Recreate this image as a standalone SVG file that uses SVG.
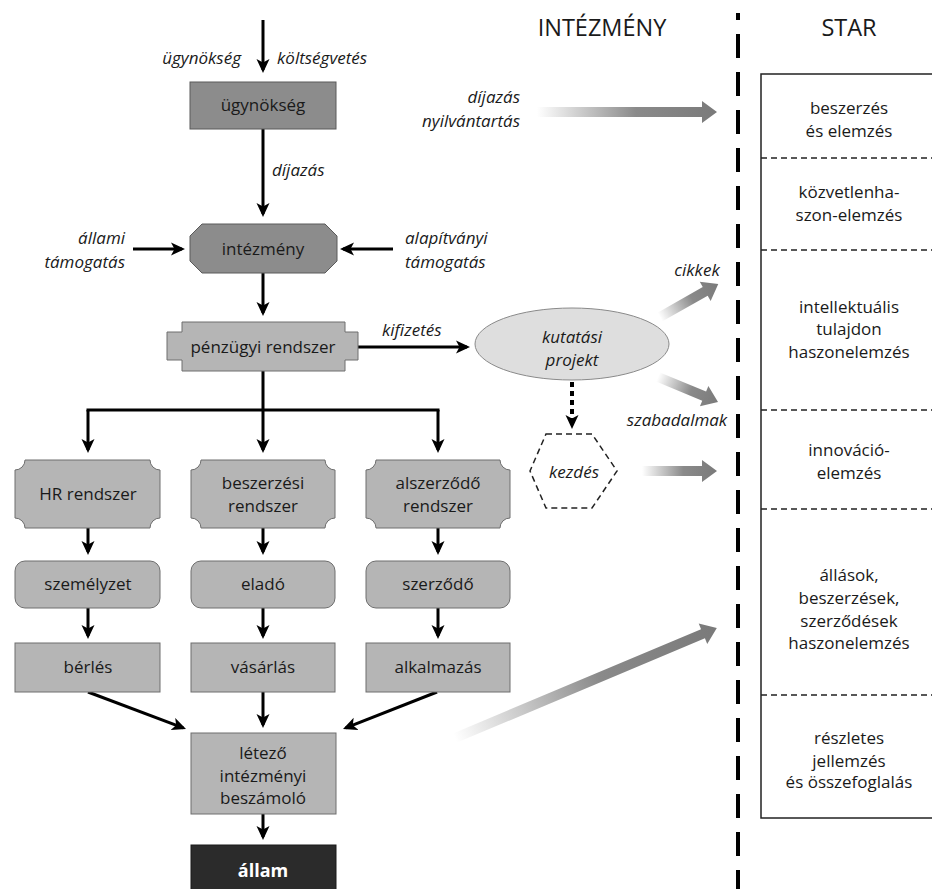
<svg xmlns="http://www.w3.org/2000/svg" width="932" height="889" viewBox="0 0 932 889">
<style>
text{font-family:"Open Sans","Noto Sans","Liberation Sans",sans-serif;fill:#1a1a1a}
.t{font-size:17px;text-anchor:middle}
.i{font-size:17px;font-style:italic}
.h{font-size:23.5px;text-anchor:middle}
.dark{fill:#8c8c8c;stroke:#5a5a5a;stroke-width:1}
.light{fill:#b5b5b5;stroke:#6e6e6e;stroke-width:1}
.con{stroke:#000;stroke-width:3;fill:none}
.arr{marker-end:url(#ah)}
.sep{stroke:#222;stroke-width:1.3;stroke-dasharray:6 4}
.ga{fill:url(#grad)}
</style>
<defs>
<marker id="ah" markerUnits="userSpaceOnUse" viewBox="0 0 14 14" markerWidth="14" markerHeight="14" refX="11" refY="7" orient="auto">
<path d="M0,0.5 L14,7 L0,13.5 L3.5,7 Z" fill="#000"/>
</marker>
<linearGradient id="grad" x1="0" y1="0" x2="1" y2="0">
<stop offset="0" stop-color="#ffffff"/>
<stop offset="0.55" stop-color="#8a8a8a"/>
<stop offset="1" stop-color="#7a7a7a"/>
</linearGradient>
</defs>

<!-- column headers and separator -->
<text class="h" x="602" y="36">INTÉZMÉNY</text>
<text class="h" x="849" y="36">STAR</text>
<line x1="738" y1="13" x2="738" y2="889" stroke="#000" stroke-width="4" stroke-dasharray="24 14" stroke-dashoffset="17"/>

<g id="connectors">
<line class="con arr" x1="263" y1="20" x2="263" y2="70"/>
<line class="con arr" x1="263" y1="129" x2="263" y2="214"/>
<line class="con arr" x1="133" y1="249" x2="182" y2="249"/>
<line class="con arr" x1="393" y1="249" x2="343" y2="249"/>
<line class="con arr" x1="263" y1="273" x2="263" y2="313"/>
<path class="con" d="M263,371 V410 M86.5,410 H439.5"/>
<line class="con arr" x1="88" y1="410" x2="88" y2="450"/>
<line class="con arr" x1="263" y1="410" x2="263" y2="450"/>
<line class="con arr" x1="438" y1="410" x2="438" y2="450"/>
<line class="con arr" x1="358" y1="347" x2="467" y2="347"/>
<line class="con arr" x1="88" y1="528" x2="88" y2="552"/>
<line class="con arr" x1="263" y1="528" x2="263" y2="552"/>
<line class="con arr" x1="438" y1="528" x2="438" y2="552"/>
<line class="con arr" x1="88" y1="608" x2="88" y2="636"/>
<line class="con arr" x1="263" y1="608" x2="263" y2="636"/>
<line class="con arr" x1="438" y1="608" x2="438" y2="636"/>
<line class="con arr" x1="88" y1="692" x2="183.2" y2="727.9"/>
<line class="con arr" x1="263" y1="692" x2="263" y2="725"/>
<line class="con arr" x1="437" y1="692" x2="345.8" y2="727.9"/>
<line class="con arr" x1="263" y1="814" x2="263" y2="837"/>
<line x1="572" y1="382" x2="572" y2="426" stroke="#000" stroke-width="4" stroke-dasharray="5 4" marker-end="url(#ah)"/>
<!-- gradient arrows -->
<path class="ga" transform="translate(537,112)" d="M0,-5 H165 V-11 L180,0 L165,11 V5 H0 Z"/>
<path class="ga" transform="translate(660,317) rotate(-29.6)" d="M0,-5 H52 V-11 L67,0 L52,11 V5 H0 Z"/>
<path class="ga" transform="translate(658,377) rotate(22.6)" d="M0,-5 H50 V-11 L65,0 L50,11 V5 H0 Z"/>
<path class="ga" transform="translate(642,471)" d="M0,-5 H60 V-11 L75,0 L60,11 V5 H0 Z"/>
<path class="ga" transform="translate(455,738) rotate(-22.8)" d="M0,-5 H269 V-11 L284,0 L269,11 V5 H0 Z"/>
</g>

<!-- labels -->
<text class="i" x="241" y="64" text-anchor="end">ügynökség</text>
<text class="i" x="277" y="64">költségvetés</text>
<text class="i" x="272" y="176">díjazás</text>
<text class="i" x="125" y="244" text-anchor="end">állami</text>
<text class="i" x="125" y="268" text-anchor="end">támogatás</text>
<text class="i" x="405" y="244">alapítványi</text>
<text class="i" x="405" y="268">támogatás</text>
<text class="i" x="382" y="336">kifizetés</text>
<text class="i" x="520" y="103" text-anchor="end">díjazás</text>
<text class="i" x="520" y="127" text-anchor="end">nyilvántartás</text>
<text class="i" x="697" y="276" text-anchor="middle">cikkek</text>
<text class="i" x="677" y="426" text-anchor="middle">szabadalmak</text>

<g id="n-ugynokseg">
<rect class="dark" x="190" y="82" width="146" height="47"/>
<text class="t" x="263" y="111">ügynökség</text>
</g>
<g id="n-intezmeny">
<polygon class="dark" points="202,224 325,224 337,236 337,261 325,273 202,273 190,261 190,236"/>
<text class="t" x="263" y="255">intézmény</text>
</g>
<g id="n-penzugyi">
<polygon class="light" points="182,322 345,322 345,332 358,332 358,360 345,360 345,371 182,371 182,360 167,360 167,332 182,332"/>
<text class="t" x="263" y="353">pénzügyi rendszer</text>
</g>
<g id="n-kutatasi">
<ellipse cx="572" cy="344" rx="97" ry="36" fill="#dedede" stroke="#8a8a8a" stroke-width="1"/>
<text class="i" x="572" y="343" text-anchor="middle">kutatási</text>
<text class="i" x="572" y="366" text-anchor="middle">projekt</text>
</g>
<g id="n-kezdes">
<polygon points="546,434 592,434 617,471 592,508 546,508 530,471" fill="#fff" stroke="#222" stroke-width="1.5" stroke-dasharray="6 4"/>
<text class="i" x="574" y="478" text-anchor="middle">kezdés</text>
</g>

<g id="n-hr">
<path class="light" d="M25,460 H150 A10,10 0 0 0 160,470 V518 A10,10 0 0 0 150,528 H25 A10,10 0 0 0 15,518 V470 A10,10 0 0 0 25,460 Z"/>
<text class="t" x="88" y="500">HR rendszer</text>
</g>
<g id="n-beszerzesi">
<path class="light" d="M201,460 H325 A10,10 0 0 0 335,470 V518 A10,10 0 0 0 325,528 H201 A10,10 0 0 0 191,518 V470 A10,10 0 0 0 201,460 Z"/>
<text class="t" x="263" y="489">beszerzési</text>
<text class="t" x="263" y="512">rendszer</text>
</g>
<g id="n-alszerzodo">
<path class="light" d="M376,460 H500 A10,10 0 0 0 510,470 V518 A10,10 0 0 0 500,528 H376 A10,10 0 0 0 366,518 V470 A10,10 0 0 0 376,460 Z"/>
<text class="t" x="438" y="489">alszerződő</text>
<text class="t" x="438" y="512">rendszer</text>
</g>

<g id="n-szemelyzet">
<rect class="light" x="15" y="561" width="145" height="47" rx="10"/>
<text class="t" x="88" y="590">személyzet</text>
</g>
<g id="n-elado">
<rect class="light" x="191" y="561" width="144" height="47" rx="10"/>
<text class="t" x="263" y="590">eladó</text>
</g>
<g id="n-szerzodo">
<rect class="light" x="366" y="561" width="144" height="47" rx="10"/>
<text class="t" x="438" y="590">szerződő</text>
</g>

<g id="n-berles">
<rect class="light" x="15" y="643" width="145" height="49"/>
<text class="t" x="88" y="673">bérlés</text>
</g>
<g id="n-vasarlas">
<rect class="light" x="191" y="643" width="144" height="49"/>
<text class="t" x="263" y="673">vásárlás</text>
</g>
<g id="n-alkalmazas">
<rect class="light" x="366" y="643" width="144" height="49"/>
<text class="t" x="438" y="673">alkalmazás</text>
</g>

<g id="n-letezo">
<rect class="light" x="191" y="733" width="145" height="81"/>
<text class="t" x="263" y="759">létező</text>
<text class="t" x="263" y="782">intézményi</text>
<text class="t" x="263" y="804">beszámoló</text>
</g>
<g id="n-allam">
<rect x="191" y="845" width="145" height="50" fill="#2b2b2b" stroke="#1a1a1a"/>
<text class="t" x="263" y="877" style="fill:#fff;font-weight:bold;font-size:18px">állam</text>
</g>

<g id="n-star">
<rect x="761" y="74" width="200" height="744" fill="#fff" stroke="#222" stroke-width="1.5"/>
<line class="sep" x1="761" y1="158" x2="932" y2="158"/>
<line class="sep" x1="761" y1="250" x2="932" y2="250"/>
<line class="sep" x1="761" y1="410" x2="932" y2="410"/>
<line class="sep" x1="761" y1="509" x2="932" y2="509"/>
<line class="sep" x1="761" y1="695" x2="932" y2="695"/>
<text class="t" x="849" y="114">beszerzés</text>
<text class="t" x="849" y="137">és elemzés</text>
<text class="t" x="849" y="198">közvetlenha-</text>
<text class="t" x="849" y="221">szon-elemzés</text>
<text class="t" x="849" y="313">intellektuális</text>
<text class="t" x="849" y="335">tulajdon</text>
<text class="t" x="849" y="358">haszonelemzés</text>
<text class="t" x="849" y="456">innováció-</text>
<text class="t" x="849" y="479">elemzés</text>
<text class="t" x="849" y="581">állások,</text>
<text class="t" x="849" y="604">beszerzések,</text>
<text class="t" x="849" y="627">szerződések</text>
<text class="t" x="849" y="649">haszonelemzés</text>
<text class="t" x="849" y="744">részletes</text>
<text class="t" x="849" y="767">jellemzés</text>
<text class="t" x="849" y="788">és összefoglalás</text>
</g>
</svg>
